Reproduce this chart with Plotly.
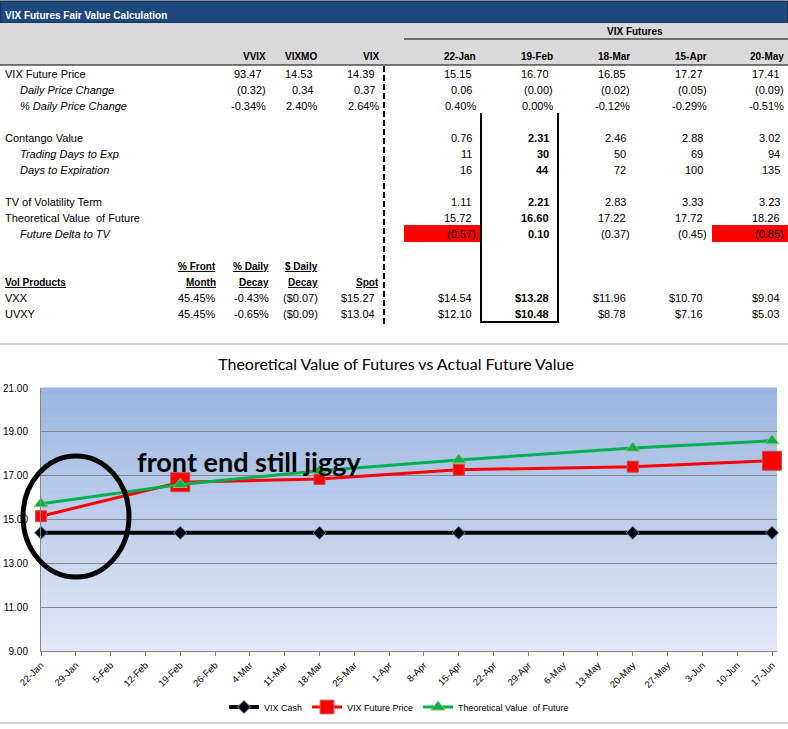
import plotly.graph_objects as go

W, H = 788, 729


def px(x):
    return x / W


def py(y):
    return 1 - y / H


# ---------------- table data ----------------
table_title = "VIX Futures Fair Value Calculation"
futures_group = "VIX Futures"
spot_names = ["VVIX", "VIXMO", "VIX"]
future_names = ["22-Jan", "19-Feb", "18-Mar", "15-Apr", "20-May"]

row_labels = ["VIX Future Price", "Daily Price Change", "% Daily Price Change",
              "Contango Value", "Trading Days to Exp", "Days to Expiration",
              "TV of Volatility Term", "Theoretical Value  of Future", "Future Delta to TV"]
row_italic = [False, True, True, False, True, True, False, False, True]

spot_price = ["93.47", "14.53", "14.39"]
spot_change = ["(0.32)", "0.34", "0.37"]
spot_pct = ["-0.34%", "2.40%", "2.64%"]

fut_price = ["15.15", "16.70", "16.85", "17.27", "17.41"]
fut_change = ["0.06", "(0.00)", "(0.02)", "(0.05)", "(0.09)"]
fut_pct = ["0.40%", "0.00%", "-0.12%", "-0.29%", "-0.51%"]
contango = ["0.76", "2.31", "2.46", "2.88", "3.02"]
trading_days = ["11", "30", "50", "69", "94"]
days_to_exp = ["16", "44", "72", "100", "135"]
tv_vol_term = ["1.11", "2.21", "2.83", "3.33", "3.23"]
theo_value = ["15.72", "16.60", "17.22", "17.72", "18.26"]
delta_to_tv = ["(0.57)", "0.10", "(0.37)", "(0.45)", "(0.85)"]

vol_title = "Vol Products"
vol_head_top = ["% Front", "% Daily", "$ Daily", ""]
vol_head_bot = ["Month", "Decay", "Decay", "Spot"]
vol_products = ["VXX", "UVXY"]
vol_front = ["45.45%", "45.45%"]
vol_decay_pct = ["-0.43%", "-0.65%"]
vol_decay_usd = ["($0.07)", "($0.09)"]
vol_spot = ["$15.27", "$13.04"]
vxx_fut = ["$14.54", "$13.28", "$11.96", "$10.70", "$9.04"]
uvxy_fut = ["$12.10", "$10.48", "$8.78", "$7.16", "$5.03"]

# ---------------- chart data ----------------
chart_title = "Theoretical Value of Futures vs Actual Future Value"
note_text = "front end still jiggy"
expiry_dates = ["2012-01-22", "2012-02-19", "2012-03-18", "2012-04-15", "2012-05-20", "2012-06-17"]
vix_cash = [14.39, 14.39, 14.39, 14.39, 14.39, 14.39]
future_price = [15.15, 16.70, 16.85, 17.27, 17.41, 17.68]
theoretical = [15.72, 16.60, 17.22, 17.72, 18.26, 18.59]

# ---------------- layout helpers ----------------
TFONT = "Liberation Sans, Arial, sans-serif"
annotations = []
shapes = []


def text(s, x, y, anchor="right", bold=False, italic=False, under=False,
         color="black", size=11, font=TFONT):
    if bold:
        s = "<b>" + s + "</b>"
    if italic:
        s = "<i>" + s + "</i>"
    if under:
        s = "<u>" + s + "</u>"
    annotations.append(dict(text=s, x=px(x), y=py(y), xref="paper", yref="paper",
                            xanchor=anchor, yanchor="middle", showarrow=False,
                            font=dict(family=font, size=size, color=color)))


def num(s, edge, y, bold=False):
    # accounting style: values without a closing paren/percent sit a bit left
    x = edge if s.endswith(")") or s.endswith("%") else edge - 4
    text(s, x, y, bold=bold)


def rect(x0, y0, x1, y1, fill, line=None, layer="below"):
    shapes.append(dict(type="rect", xref="paper", yref="paper", layer=layer,
                       x0=px(x0), x1=px(x1), y0=py(y0), y1=py(y1), fillcolor=fill,
                       line=dict(width=1 if line else 0, color=line or fill)))


def hline(x0, x1, y, color="black", width=1, dash="solid"):
    shapes.append(dict(type="line", xref="paper", yref="paper", layer="below",
                       x0=px(x0), x1=px(x1), y0=py(y), y1=py(y),
                       line=dict(color=color, width=width, dash=dash)))


def vline(x, y0, y1, color="black", width=1, dash="solid"):
    shapes.append(dict(type="line", xref="paper", yref="paper", layer="below",
                       x0=px(x), x1=px(x), y0=py(y0), y1=py(y1),
                       line=dict(color=color, width=width, dash=dash)))


# ---------------- table drawing ----------------
rect(0, 1, 788, 23, "#1f497d", line="#10243e")
rect(0, 23, 788, 65, "#d9d9d9")
text(table_title, 3, 15, anchor="left", bold=True, color="white", size=10)
text(futures_group, 635, 32, anchor="center", bold=True, size=10)
hline(404, 788, 39)
hline(0, 788, 65)

spot_edges = [268, 319, 381]
fut_edges = [478, 555, 632, 709, 786]
for name, e in zip(spot_names, spot_edges):
    text(name, e, 57, bold=True, size=10)
for name, e in zip(future_names, fut_edges):
    text(name, e, 57, bold=True, size=10)

row_y = [74, 90, 106, 138, 154, 170, 202, 218, 234]
for lab, it, y in zip(row_labels, row_italic, row_y):
    text(lab, 18 if it else 3, y, anchor="left", italic=it)

for vals, y in zip([spot_price, spot_change, spot_pct], row_y[:3]):
    for v, e in zip(vals, spot_edges):
        num(v, e, y)

# red highlight cells on the delta row
rect(404, 225, 481, 242, "#ff0000")
rect(712, 225, 788, 242, "#ff0000")

fut_rows = [fut_price, fut_change, fut_pct, contango, trading_days, days_to_exp,
            tv_vol_term, theo_value, delta_to_tv]
for r, (vals, y) in enumerate(zip(fut_rows, row_y)):
    for c, (v, e) in enumerate(zip(vals, fut_edges)):
        num(v, e, y, bold=(r >= 3 and c == 1))

# vol products block
vol_edges = [218, 271, 320, 381]
for t, b, e in zip(vol_head_top, vol_head_bot, vol_edges):
    if t:
        text(t, e, 266, bold=True, under=True, size=10)
    text(b, e, 282, bold=True, under=True, size=10)
text(vol_title, 3, 282, anchor="left", bold=True, under=True, size=10)

vol_y = [298, 314]
for i, y in enumerate(vol_y):
    text(vol_products[i], 3, y, anchor="left")
    for v, e in zip([vol_front[i], vol_decay_pct[i], vol_decay_usd[i], vol_spot[i]], vol_edges):
        num(v, e, y)
    for c, (v, e) in enumerate(zip([vxx_fut, uvxy_fut][i], fut_edges)):
        num(v, e, y, bold=(c == 1))

vline(384, 66, 326, width=2, dash="6px,3px")
vline(481, 113, 322, width=2)
vline(558, 113, 322, width=2)
hline(480, 559, 322, width=2)

# chart frame lines
hline(0, 788, 344, color="#a0a0a0")
hline(0, 788, 723, color="#a0a0a0")

# gradient plot background
n_bands = 60
top_c = (155, 182, 226)
bot_c = (226, 232, 244)
for i in range(n_bands):
    f = i / (n_bands - 1)
    col = tuple(round(bot_c[k] + (top_c[k] - bot_c[k]) * f) for k in range(3))
    shapes.append(dict(type="rect", xref="x domain", yref="y domain", layer="below",
                       x0=0, x1=1, y0=i / n_bands, y1=(i + 1) / n_bands + 0.002,
                       fillcolor="rgb(%d,%d,%d)" % col, line=dict(width=0)))

# circle annotation
shapes.append(dict(type="circle", xref="paper", yref="paper", layer="above",
                   x0=px(23), x1=px(129), y0=py(577), y1=py(456),
                   line=dict(color="black", width=5)))
annotations.append(dict(text="<b>" + note_text + "</b>", x=px(135), y=py(461),
                        xref="paper", yref="paper", xanchor="left", yanchor="middle",
                        showarrow=False, font=dict(family="Lato, Open Sans, sans-serif",
                                                   size=27, color="black")))

# ---------------- chart ----------------
fig = go.Figure()
fig.add_trace(go.Scatter(
    x=expiry_dates, y=vix_cash, name="VIX Cash", mode="lines+markers", cliponaxis=False,
    line=dict(color="black", width=4),
    marker=dict(symbol="diamond", size=10, color="black", opacity=1,
                line=dict(color="#4f81bd", width=1))))
fig.add_trace(go.Scatter(
    x=expiry_dates, y=future_price, name="VIX Future Price", mode="lines+markers",
    cliponaxis=False, line=dict(color="#ff0000", width=3),
    marker=dict(symbol="square", size=[11, 19, 11, 11, 11, 19], color="#ff0000", opacity=1,
                line=dict(color="#c0504d", width=1))))
fig.add_trace(go.Scatter(
    x=expiry_dates, y=theoretical, name="Theoretical Value  of Future", mode="lines+markers",
    cliponaxis=False, line=dict(color="#00b050", width=3),
    marker=dict(symbol="triangle-up", size=12, color="#00b050", opacity=1,
                line=dict(color="#9bbb59", width=1))))

fig.update_layout(
    width=W, height=H, autosize=False,
    margin=dict(l=0, r=0, t=0, b=0),
    paper_bgcolor="white", plot_bgcolor="rgba(0,0,0,0)",
    font=dict(family=TFONT, color="black"),
    title=dict(text=chart_title, x=px(396), xanchor="center", y=py(364), yanchor="middle",
               font=dict(family="Lato, Open Sans, sans-serif", size=16, color="black")),
    xaxis=dict(type="date", domain=[px(41), px(777)], range=["2012-01-22", "2012-06-18"],
               tick0="2012-01-22", dtick=7 * 86400000, tickformat="%-d-%b", tickangle=-45,
               ticks="outside", ticklen=4, tickcolor="#868686", showline=True,
               linecolor="#868686", showgrid=False, zeroline=False, automargin=False,
               tickfont=dict(size=9.5)),
    yaxis=dict(domain=[py(651), py(388)], range=[9, 21], tick0=9, dtick=2, tickformat=".2f",
               showgrid=True, gridcolor="#868686", showline=True, linecolor="#868686",
               zeroline=False, automargin=False, ticklabelstandoff=10,
               tickfont=dict(size=10)),
    legend=dict(orientation="h", x=px(224), y=py(707), xanchor="left", yanchor="middle",
                font=dict(size=9), bgcolor="rgba(0,0,0,0)", itemwidth=30),
    shapes=shapes, annotations=annotations,
)

fig.write_html("out.html", config={"displayModeBar": False},
               post_script="document.body.style.margin='0';")
